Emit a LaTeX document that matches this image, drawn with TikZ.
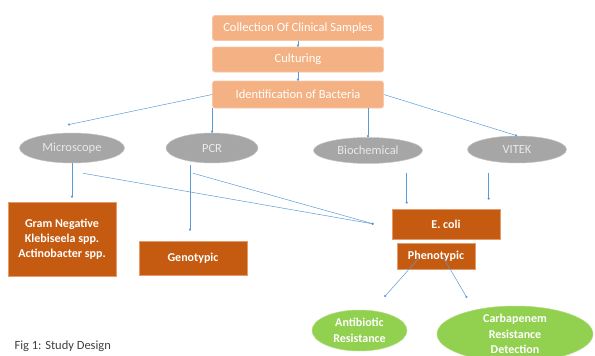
\documentclass[tikz,border=0pt]{standalone}
\usepackage{fontspec}
\setmainfont{Carlito}
\usetikzlibrary{shapes.geometric,arrows.meta,calc}
\definecolor{linkblue}{HTML}{5B9BD5}
\definecolor{peach}{HTML}{F4B183}
\definecolor{peachedge}{HTML}{F7C7A6}
\definecolor{methodgray}{HTML}{A6A6A6}
\definecolor{methodedge}{HTML}{C4C4C4}
\definecolor{methodtext}{HTML}{E9E9E9}
\definecolor{rust}{HTML}{C55A11}
\definecolor{rustedge}{HTML}{E39A6C}
\definecolor{leaf}{HTML}{92D050}
\definecolor{leafedge}{HTML}{B2DE84}
\definecolor{captiongray}{HTML}{404040}
\begin{document}
\begin{tikzpicture}[
 x=1pt,y=-1pt,
 link/.style={line width=.5pt,draw=linkblue,-{Circle[length=2.2pt]}},
 stepbox/.style={rectangle,rounded corners=2.5pt,fill=peach,draw=peachedge,line width=.7pt,
   minimum width=171pt,minimum height=25pt,text=white,inner sep=0pt},
 method/.style={ellipse,fill=methodgray,draw=methodedge,line width=.5pt,text=methodtext,inner sep=0pt},
 result/.style={rectangle,fill=rust,draw=rustedge,line width=.7pt,text=white,align=center,
   inner sep=0pt,font=\fontsize{12}{15}\selectfont\bfseries},
 outcome/.style={ellipse,fill=leaf,draw=leafedge,line width=.5pt,text=white,align=center,
   inner sep=0pt,font=\fontsize{12}{15.5}\selectfont\bfseries},
 every node/.style={font=\fontsize{12.5}{15}\selectfont}]
 \useasboundingbox (0,0) rectangle (595,356);
 \clip (0,0) rectangle (595,356);
 % Sample processing steps.
 \node[stepbox] (collect) at (298,28) {Collection Of Clinical Samples};
 \node[stepbox] (culture) at (298,59.5) {Culturing};
 \node[stepbox,minimum height=27pt] (ident) at (298,94.5) {Identification of Bacteria};
 % Identification methods.
 \node[method,minimum width=105pt,minimum height=30pt] (micro) at (72,148) {Microscope};
 \node[method,minimum width=92pt,minimum height=30pt] (pcr) at (212,148) {PCR};
 \node[method,minimum width=109pt,minimum height=26pt] (bio) at (368,150.5) {Biochemical};
 \node[method,minimum width=99pt,minimum height=27pt] (vitek) at (517,149.5) {VITEK};
 % Findings.
 \node[result,minimum width=108pt,minimum height=74pt] (gram) at (62,239)
   {Gram Negative\\Klebiseela spp.\\Actinobacter spp.};
 \node[result,minimum width=108pt,minimum height=34pt] (geno) at (193,258) {Genotypic};
 \node[result,minimum width=108pt,minimum height=30pt] (ecoli) at (446,224) {E. coli};
 \node[result,minimum width=78pt,minimum height=26pt] (pheno) at (436,256) {Phenotypic};
 % Resistance tests.
 \node[outcome,minimum width=95pt,minimum height=41pt] (anti) at (359.5,330.5) {Antibiotic\\Resistance};
 \node[outcome,minimum width=156pt,minimum height=56pt] (carba) at (515,334)
   {Carbapenem\\Resistance\\Detection};
 \node[anchor=west,text=captiongray] (caption) at (11,346) {Fig 1: Study Design};
 % Connectors.
 \coordinate (meet) at ($(ecoli.west)+(-18,0)$);
 \draw[link] (collect.south) -- (culture.north);
 \draw[link] (culture.south) -- (ident.north);
 \draw[link] (ident.west) -- ($(micro.north)+(-4,-8)$);
 \draw[link] (pcr.north |- ident.south) -- (pcr.north);
 \draw[link] (bio.north |- ident.south) -- (bio.north);
 \draw[link] (ident.east) -- (vitek.north);
 \draw[link,shorten >=4pt] (micro.south) -- (micro.south |- gram.north);
 \draw[link] ($(micro.south)+(11,10)$) -- (meet);
 \draw[link] ($(pcr.south)+(-19,10)$) -- (meet);
 \draw[link,shorten >=10pt] ($(geno.north |- pcr.south)+(-3,2)$) -- ($(geno.north)+(-3,0)$);
 \draw[link] ($(ecoli.north west)+(15,-36)$) -- ($(ecoli.north west)+(15,-5)$);
 \draw[link] ($(ecoli.north west)+(97,-36)$) -- ($(ecoli.north west)+(97,-9)$);
 \draw[link] ($(pheno.center)+(-17,2)$) -- ($(anti.north)+(25,-13)$);
 \draw[link] ($(pheno.center)+(7,1)$) -- ($(carba.north)+(-48,-8)$);
\end{tikzpicture}
\end{document}
